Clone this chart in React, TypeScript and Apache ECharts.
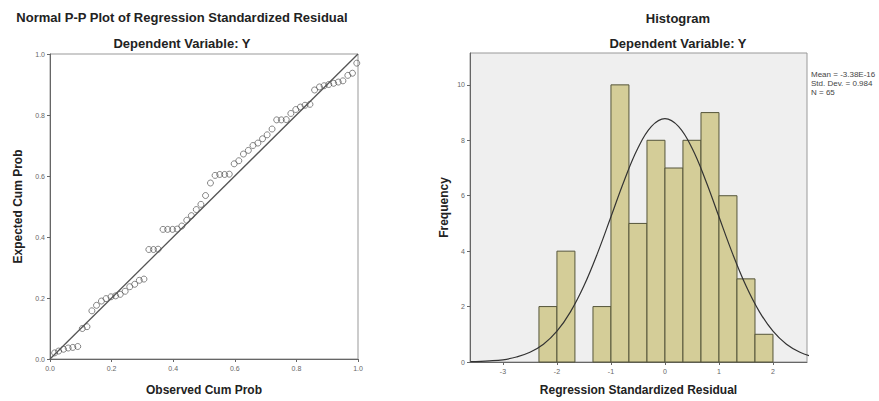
import React, { useEffect, useRef } from "react";
import * as echarts from "echarts";

// P-P plot: observed vs expected cumulative probabilities
const observedCumProb = [
  0.015, 0.028, 0.044, 0.059, 0.074, 0.09, 0.105, 0.12, 0.136, 0.151, 0.167, 0.182,
  0.198, 0.213, 0.228, 0.244, 0.259, 0.275, 0.29, 0.305, 0.321, 0.336, 0.351, 0.367,
  0.382, 0.398, 0.413, 0.428, 0.444, 0.459, 0.475, 0.49, 0.505, 0.521, 0.536, 0.551,
  0.567, 0.582, 0.598, 0.613, 0.628, 0.644, 0.659, 0.675, 0.69, 0.705, 0.721, 0.736,
  0.751, 0.767, 0.782, 0.798, 0.813, 0.828, 0.844, 0.859, 0.875, 0.89, 0.905, 0.921,
  0.936, 0.951, 0.967, 0.982, 0.996,
];
const expectedCumProb = [
  0.02, 0.026, 0.032, 0.036, 0.038, 0.041, 0.1, 0.106, 0.158, 0.176, 0.19, 0.198,
  0.204, 0.207, 0.212, 0.222, 0.237, 0.245, 0.258, 0.262, 0.359, 0.359, 0.36, 0.425,
  0.425, 0.425, 0.426, 0.436, 0.455, 0.47, 0.49, 0.507, 0.536, 0.577, 0.602, 0.605,
  0.605, 0.606, 0.64, 0.65, 0.672, 0.684, 0.7, 0.708, 0.722, 0.735, 0.754, 0.784,
  0.784, 0.785, 0.805, 0.818, 0.826, 0.832, 0.835, 0.882, 0.892, 0.896, 0.9, 0.904,
  0.908, 0.912, 0.93, 0.937, 0.97,
];
const ppTicks = [0, 0.2, 0.4, 0.6, 0.8, 1.0];

// Histogram bins (regression standardized residual) and frequencies
const binStart = [-2.333, -2.0, -1.667, -1.333, -1.0, -0.667, -0.333, 0.0, 0.333, 0.667, 1.0, 1.333, 1.667];
const binEnd = [-2.0, -1.667, -1.333, -1.0, -0.667, -0.333, 0.0, 0.333, 0.667, 1.0, 1.333, 1.667, 2.0];
const binCount = [2, 4, 0, 2, 10, 5, 8, 7, 8, 9, 6, 3, 1];
const histXTicks = [-3, -2, -1, 0, 1, 2];
const histYTicks = [0, 2, 4, 6, 8, 10];

// Normal curve overlay
const curveX = [-3.6, -3.25, -3, -2.75, -2.5, -2.25, -2, -1.75, -1.5, -1.25, -1, -0.75, -0.5, -0.25, 0, 0.25, 0.5, 0.75, 1, 1.25, 1.5, 1.75, 2, 2.25, 2.5, 2.75];
const curveY = [0.01, 0.04, 0.08, 0.18, 0.35, 0.64, 1.11, 1.81, 2.75, 3.92, 5.24, 6.57, 7.72, 8.5, 8.78, 8.5, 7.72, 6.57, 5.24, 3.92, 2.75, 1.81, 1.11, 0.64, 0.35, 0.18];

const statLines = ["Mean = -3.38E-16", "Std. Dev. = 0.984", "N = 65"];

const FONT = "'Liberation Sans', Arial, sans-serif";

export default function App() {
  const ref = useRef<HTMLDivElement>(null);
  useEffect(() => {
    if (!ref.current) return;
    const chart = echarts.init(ref.current, undefined, { renderer: "svg" });
    const tickLabel = { fontSize: 7, color: "#666", fontFamily: FONT };
    const axisName = { fontSize: 12, fontWeight: "bold" as const, color: "#222", fontFamily: FONT };
    const axisLine = { show: true, onZero: false, lineStyle: { color: "#666", width: 1 } };
    const axisTick = { show: true, inside: false, length: 3, lineStyle: { color: "#666" } };

    const ppData = observedCumProb.map((x, i) => [x, expectedCumProb[i]]);
    const histData = binCount.map((c, i) => [binStart[i], binEnd[i], c]).filter((d) => d[2] > 0);
    const curveData = curveX.map((x, i) => [x, curveY[i]]);
    const titleFont = `bold 13px ${FONT}`;

    const option: any = {
      animation: false,
      backgroundColor: "#ffffff",
      textStyle: { fontFamily: FONT },
      grid: [
        { left: 50, right: 521, top: 54, bottom: 41, show: true, borderColor: "#999", borderWidth: 1, backgroundColor: "#ffffff" },
        { left: 470, right: 72, top: 53, bottom: 39, show: true, borderColor: "#999", borderWidth: 1, backgroundColor: "#efefef" },
      ],
      xAxis: [
        {
          gridIndex: 0, type: "value", min: 0, max: 1, interval: 0.2,
          axisLine, axisTick,
          axisLabel: { ...tickLabel, margin: 6, formatter: (v: number) => v.toFixed(1), customValues: ppTicks },
          splitLine: { show: false },
          name: "Observed Cum Prob", nameLocation: "middle", nameGap: 25, nameTextStyle: axisName,
        },
        {
          gridIndex: 1, type: "value", min: -3.61, max: 2.63,
          axisLine, axisTick: { ...axisTick, customValues: histXTicks },
          axisLabel: { ...tickLabel, margin: 6, customValues: histXTicks, formatter: (v: number) => String(v) },
          splitLine: { show: false },
          name: "Regression Standardized Residual", nameLocation: "middle", nameGap: 22, nameTextStyle: axisName,
        },
      ],
      yAxis: [
        {
          gridIndex: 0, type: "value", min: 0, max: 1, interval: 0.2,
          axisLine, axisTick,
          axisLabel: { ...tickLabel, margin: 5, formatter: (v: number) => v.toFixed(1) },
          splitLine: { show: false },
          name: "Expected Cum Prob", nameLocation: "middle", nameGap: 26, nameTextStyle: axisName,
        },
        {
          gridIndex: 1, type: "value", min: 0, max: 11.15,
          axisLine, axisTick: { ...axisTick, customValues: histYTicks },
          axisLabel: { ...tickLabel, margin: 5, customValues: histYTicks, formatter: (v: number) => String(v) },
          splitLine: { show: false },
          name: "Frequency", nameLocation: "middle", nameGap: 20, nameTextStyle: axisName,
        },
      ],
      graphic: [
        { type: "text", x: 182, y: 17, style: { text: "Normal P-P Plot of Regression Standardized Residual", font: titleFont, fill: "#222", textAlign: "center", textVerticalAlign: "middle" } },
        { type: "text", x: 182, y: 43, style: { text: "Dependent Variable: Y", font: titleFont, fill: "#222", textAlign: "center", textVerticalAlign: "middle" } },
        { type: "text", x: 678, y: 18, style: { text: "Histogram", font: titleFont, fill: "#222", textAlign: "center", textVerticalAlign: "middle" } },
        { type: "text", x: 678, y: 43, style: { text: "Dependent Variable: Y", font: titleFont, fill: "#222", textAlign: "center", textVerticalAlign: "middle" } },
        ...statLines.map((t, i) => ({
          type: "text", x: 811, y: 70 + i * 9,
          style: { text: t, font: `8px ${FONT}`, fill: "#444", textAlign: "left", textVerticalAlign: "top" },
        })),
      ],
      series: [
        {
          type: "line", xAxisIndex: 0, yAxisIndex: 0,
          data: [[0, 0], [1, 1]], symbol: "none",
          lineStyle: { color: "#555", width: 1.3 }, silent: true,
        },
        {
          type: "scatter", xAxisIndex: 0, yAxisIndex: 0,
          data: ppData, symbol: "circle", symbolSize: 6,
          itemStyle: { color: "rgba(255,255,255,0)", borderColor: "#444", borderWidth: 0.8 },
        },
        {
          type: "custom", xAxisIndex: 1, yAxisIndex: 1,
          data: histData,
          encode: { x: [0, 1], y: 2 },
          renderItem: (params: any, api: any) => {
            const p0 = api.coord([api.value(0), api.value(2)]);
            const p1 = api.coord([api.value(1), 0]);
            return {
              type: "rect",
              shape: { x: p0[0], y: p0[1], width: p1[0] - p0[0], height: p1[1] - p0[1] },
              style: { fill: "#d4cd98", stroke: "#55553a", lineWidth: 1 },
            };
          },
        },
        {
          type: "line", xAxisIndex: 1, yAxisIndex: 1,
          data: curveData, symbol: "none", smooth: 0.4, clip: true,
          lineStyle: { color: "#333", width: 1.2 }, z: 5,
        },
      ],
    };
    chart.setOption(option);
    return () => chart.dispose();
  }, []);
  return (
    <div
      ref={ref}
      style={{ position: "fixed", left: 0, top: 0, width: 879, height: 401, background: "#fff" }}
    />
  );
}
